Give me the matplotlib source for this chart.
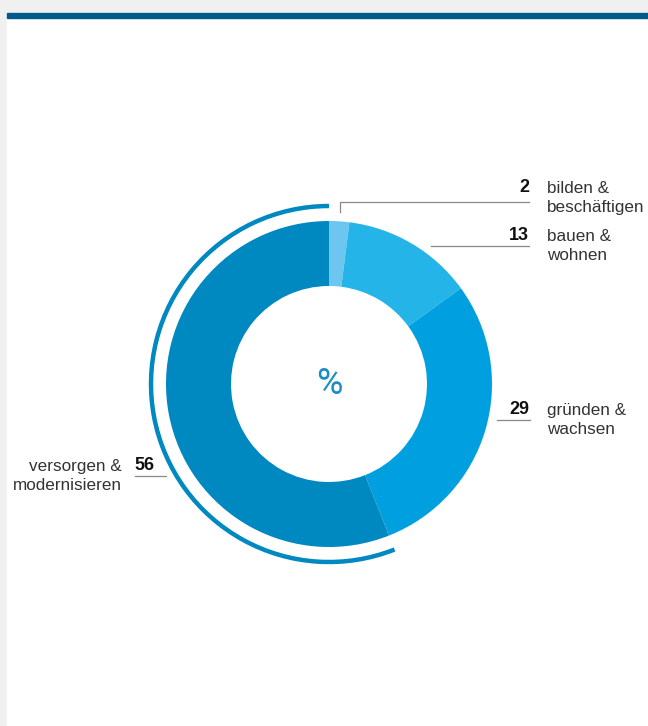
# Donut chart: Anteile nach Förderbereich

import matplotlib.pyplot as plt
from matplotlib.patches import Rectangle, Arc

werte = [2, 13, 29, 56]
bereiche = ['bilden &\nbeschäftigen', 'bauen &\nwohnen', 'gründen &\nwachsen', 'versorgen &\nmodernisieren']
farben = ['#6cc6f0', '#24b4e8', '#00a0e0', '#0088c0']

plt.rcParams['font.family'] = ['Liberation Sans', 'DejaVu Sans']

fig = plt.figure(figsize=(6.48, 7.26), dpi=100, facecolor='#f0f0f0')
ax = fig.add_axes([0, 0, 1, 1])

# weißes Panel + Balken oben
ax.add_patch(Rectangle((6.5, 0), 648, 713, color='white', zorder=0))
ax.add_patch(Rectangle((6.5, 708), 648, 5, color='#005a8c', zorder=1))

cx, cy = 329, 342
wedges, _ = ax.pie(werte, colors=farben, startangle=90, counterclock=False,
                   center=(cx, cy), radius=163, frame=True,
                   wedgeprops=dict(width=65, linewidth=0))
ax.set_xlim(0, 648)
ax.set_ylim(0, 726)
ax.set_aspect('equal')
ax.axis('off')

# Bogen um das größte Segment
ax.add_patch(Arc((cx, cy), 356, 356, theta1=wedges[3].theta1, theta2=wedges[3].theta2,
                 color='#0088c0', lw=3.2))

ax.text(cx, cy, '%', ha='center', va='center', fontsize=26, color='#1a8cc8', family='Roboto')

grau = '#888888'
fs = 12.3
zahl = dict(fontsize=13, fontweight='bold', color='#111111', va='center')
text = dict(fontsize=fs, color='#333333', va='center', linespacing=1.3)
# 2
ax.text(529, 538, str(werte[0]), ha='right', **zahl)
ax.text(547, 528, bereiche[0], ha='left', **text)
ax.plot([340, 340, 529], [514, 524, 524], color=grau, lw=0.9)
# 13
ax.text(529, 490, str(werte[1]), ha='right', **zahl)
ax.text(547, 480, bereiche[1], ha='left', **text)
ax.plot([431, 529], [480, 480], color=grau, lw=0.9)
# 29
ax.text(529, 316, str(werte[2]), ha='right', **zahl)
ax.text(547, 306, bereiche[2], ha='left', **text)
ax.plot([497, 530], [306, 306], color=grau, lw=0.9)
# 56
ax.text(134, 260, str(werte[3]), ha='left', **zahl)
ax.text(122, 250, bereiche[3], ha='right', multialignment='right', **text)
ax.plot([135, 166], [250, 250], color=grau, lw=0.9)

fig.savefig('out.png', dpi=100, facecolor=fig.get_facecolor())
